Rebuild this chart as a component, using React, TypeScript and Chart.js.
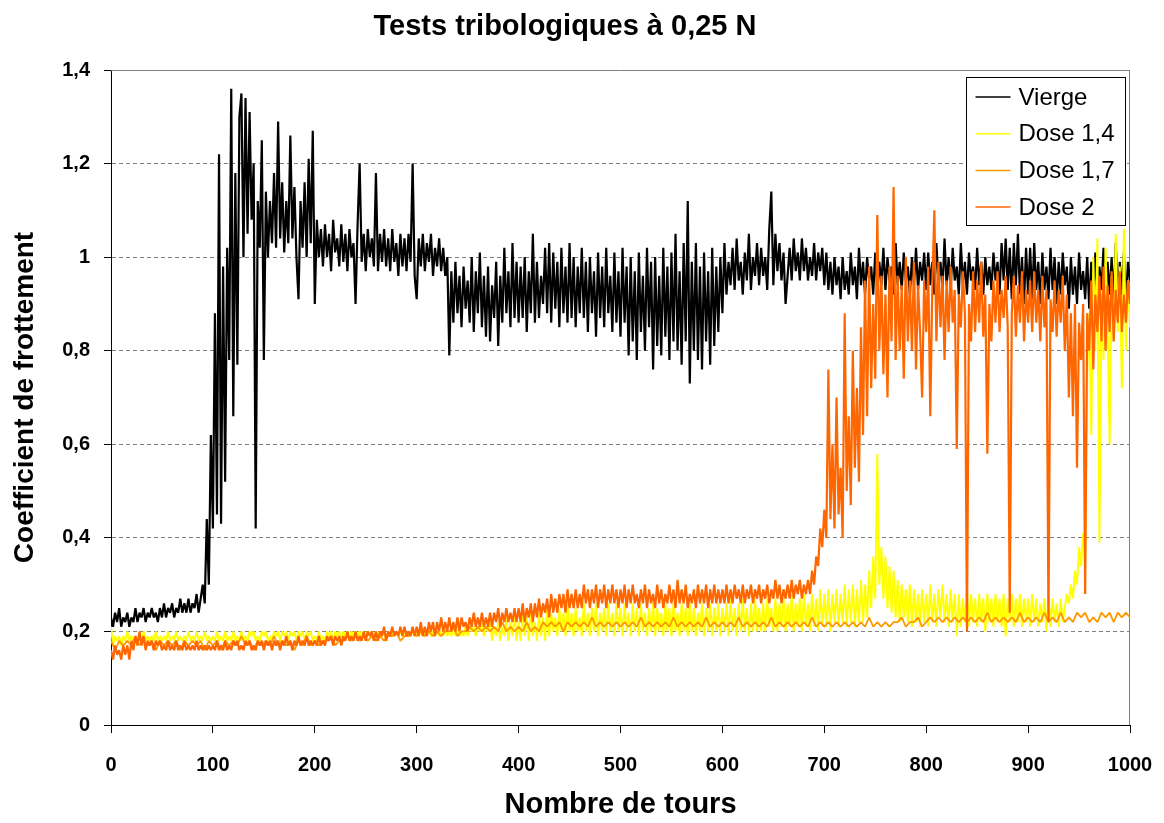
import React, { useEffect, useRef } from "react";
import { Chart, registerables } from "chart.js";

Chart.register(...registerables);

const TITLE = "Tests tribologiques à 0,25 N";
const X_TITLE = "Nombre de tours";
const Y_TITLE = "Coefficient de frottement";
const SERIES_LABELS = ["Vierge", "Dose 1,4", "Dose 1,7", "Dose 2"];
const SERIES_COLORS = ["#000000", "#FFFF00", "#FF9900", "#FF6600"];

// sampling grids (tours): every 2 tours and every 4 tours, 0..1000
const TOURS_2 = Array.from({ length: 501 }, (_, i) => i * 2);
const TOURS_4 = Array.from({ length: 251 }, (_, i) => i * 4);

// every 2 tours
const VIERGE = [
  0.23,0.21,0.24,0.22,0.25,0.21,0.23,0.22,0.24,0.21,
  0.23,0.22,0.25,0.22,0.24,0.23,0.25,0.22,0.24,0.23,
  0.25,0.23,0.24,0.22,0.25,0.23,0.26,0.23,0.25,0.24,
  0.26,0.23,0.25,0.24,0.27,0.24,0.26,0.24,0.27,0.24,
  0.26,0.25,0.28,0.24,0.27,0.30,0.26,0.44,0.30,0.62,
  0.42,0.88,0.45,1.22,0.43,0.98,0.52,1.02,0.78,1.36,
  0.66,1.18,0.77,1.30,1.35,1.00,1.34,1.05,1.31,1.08,
  1.20,0.42,1.12,1.02,1.25,0.78,1.14,1.00,1.12,1.03,
  1.18,1.02,1.29,1.04,1.16,1.01,1.12,1.03,1.26,1.04,
  1.15,1.00,0.91,1.12,1.02,1.16,1.00,1.21,1.03,1.27,
  0.90,1.08,1.00,1.06,0.98,1.07,1.00,1.05,0.97,1.08,
  1.01,1.04,0.98,1.07,0.99,1.05,0.97,1.06,1.00,1.03,
  0.90,1.07,1.20,0.99,1.05,0.97,1.06,1.00,1.04,0.98,
  1.18,0.97,1.05,0.99,1.06,0.98,1.04,0.97,1.06,0.99,
  1.03,0.96,1.05,0.98,1.04,0.97,1.05,0.99,1.20,0.96,
  0.91,1.04,0.98,1.05,0.97,1.03,0.99,1.05,0.96,1.02,
  0.98,1.04,0.97,1.02,0.96,1.00,0.79,0.97,0.86,0.99,
  0.88,0.96,0.85,0.98,0.89,0.95,0.86,1.00,0.84,0.97,
  0.88,1.01,0.85,0.96,0.83,0.98,0.82,0.94,0.87,0.99,
  0.81,0.96,0.86,1.02,0.88,0.97,0.85,1.03,0.87,0.99,
  0.86,0.98,0.87,1.00,0.84,0.97,0.88,1.05,0.86,0.99,
  0.87,0.96,0.90,1.02,0.88,1.03,0.86,1.01,0.89,0.99,
  0.85,1.02,0.88,0.98,0.86,1.03,0.87,1.00,0.85,0.98,
  0.88,1.02,0.87,0.99,0.84,1.00,0.88,0.97,0.83,1.01,
  0.87,0.98,0.85,1.02,0.88,0.96,0.84,1.01,0.86,0.97,
  0.83,1.02,0.86,0.98,0.79,1.00,0.82,0.97,0.78,1.01,
  0.84,0.96,0.80,1.02,0.85,0.99,0.76,1.00,0.81,0.96,
  0.79,1.02,0.83,0.98,0.78,1.01,0.82,1.05,0.80,0.97,
  0.77,1.03,0.82,1.12,0.73,0.99,0.80,1.03,0.78,0.98,
  0.76,1.01,0.82,0.97,0.77,1.02,0.81,0.98,0.84,1.00,
  0.88,1.03,0.92,0.99,0.94,1.02,0.93,1.04,0.95,0.99,
  0.92,1.01,0.95,1.05,0.93,1.00,0.96,1.03,0.94,1.02,
  0.96,1.00,0.93,1.06,1.14,0.94,1.05,0.97,1.03,0.95,
  1.01,0.90,0.96,1.02,0.95,1.04,0.97,1.01,0.95,1.04,
  0.97,1.02,0.95,1.00,0.96,1.03,0.95,1.01,0.97,1.02,
  0.94,1.01,0.93,0.99,0.92,1.00,0.94,0.98,0.91,1.00,
  0.93,0.97,0.92,1.01,0.94,0.98,0.91,1.02,0.94,0.99,
  0.92,1.00,0.95,0.98,0.92,1.01,0.93,0.99,0.94,1.02,
  0.93,1.00,0.95,0.98,0.92,1.03,0.94,0.99,0.93,1.01,
  0.95,0.98,0.92,1.00,0.94,1.02,0.93,0.99,0.95,1.01,
  0.93,1.01,0.94,0.99,0.92,1.03,0.95,0.99,0.93,1.04,
  0.94,1.00,0.93,1.02,0.95,0.98,0.92,1.03,0.94,0.99,
  0.92,1.01,0.95,0.98,0.93,1.02,0.94,0.99,0.92,1.00,
  0.94,0.98,0.93,1.01,0.95,0.99,0.92,1.03,0.95,1.04,
  0.93,1.02,0.91,1.03,0.94,1.05,0.92,1.00,0.90,1.02,
  0.92,1.02,0.91,1.03,0.93,0.99,0.90,1.01,0.93,0.98,
  0.91,1.02,0.93,1.00,0.90,0.99,0.92,1.01,0.94,0.98,
  0.89,1.00,0.92,0.98,0.90,1.01,0.93,0.97,0.91,1.00,
  0.89,0.99,0.92,1.01,0.90,0.98,0.93,1.02,0.89,0.99,
  0.92,1.00,0.90,1.03,0.91,0.99,0.92,1.01,0.90,0.99,
  0.95,
];

// every 2 tours
const DOSE_14 = [
  0.21,0.17,0.19,0.18,0.19,0.17,0.19,0.18,0.20,0.18,
  0.19,0.18,0.19,0.17,0.19,0.18,0.20,0.18,0.19,0.18,
  0.19,0.18,0.20,0.18,0.19,0.18,0.19,0.18,0.20,0.18,
  0.19,0.18,0.20,0.18,0.19,0.18,0.19,0.18,0.20,0.18,
  0.19,0.18,0.20,0.18,0.19,0.18,0.20,0.18,0.19,0.18,
  0.19,0.18,0.20,0.18,0.19,0.18,0.20,0.18,0.19,0.18,
  0.20,0.18,0.19,0.18,0.20,0.18,0.19,0.18,0.20,0.19,
  0.20,0.18,0.19,0.18,0.20,0.19,0.20,0.18,0.19,0.18,
  0.20,0.19,0.20,0.18,0.20,0.19,0.20,0.18,0.20,0.19,
  0.20,0.18,0.20,0.19,0.20,0.18,0.20,0.19,0.20,0.18,
  0.19,0.18,0.20,0.18,0.19,0.18,0.20,0.19,0.20,0.18,
  0.20,0.19,0.20,0.18,0.20,0.19,0.20,0.18,0.20,0.19,
  0.20,0.19,0.20,0.18,0.20,0.19,0.20,0.19,0.20,0.18,
  0.20,0.19,0.20,0.19,0.20,0.18,0.20,0.19,0.20,0.19,
  0.20,0.19,0.20,0.19,0.20,0.19,0.20,0.19,0.20,0.19,
  0.20,0.19,0.20,0.19,0.20,0.19,0.21,0.19,0.20,0.19,
  0.21,0.19,0.20,0.19,0.21,0.19,0.20,0.19,0.21,0.19,
  0.21,0.19,0.20,0.19,0.21,0.19,0.21,0.20,0.21,0.19,
  0.21,0.20,0.22,0.19,0.21,0.20,0.22,0.18,0.21,0.19,
  0.22,0.18,0.21,0.19,0.23,0.18,0.22,0.19,0.24,0.18,
  0.22,0.18,0.24,0.19,0.23,0.18,0.25,0.19,0.22,0.18,
  0.24,0.19,0.23,0.18,0.25,0.19,0.24,0.20,0.23,0.19,
  0.25,0.20,0.24,0.19,0.26,0.20,0.24,0.19,0.25,0.20,
  0.23,0.19,0.26,0.20,0.24,0.19,0.25,0.20,0.26,0.19,
  0.24,0.20,0.25,0.19,0.26,0.20,0.24,0.19,0.26,0.20,
  0.25,0.19,0.26,0.20,0.24,0.19,0.26,0.20,0.25,0.19,
  0.26,0.20,0.24,0.19,0.25,0.20,0.26,0.19,0.25,0.20,
  0.24,0.19,0.26,0.20,0.25,0.19,0.26,0.20,0.24,0.19,
  0.26,0.20,0.25,0.19,0.26,0.20,0.25,0.19,0.24,0.20,
  0.26,0.19,0.25,0.20,0.26,0.19,0.25,0.20,0.26,0.19,
  0.25,0.20,0.26,0.19,0.27,0.20,0.25,0.19,0.26,0.20,
  0.27,0.20,0.25,0.19,0.26,0.20,0.27,0.20,0.25,0.20,
  0.26,0.20,0.27,0.21,0.25,0.20,0.27,0.20,0.26,0.21,
  0.27,0.20,0.26,0.21,0.28,0.20,0.26,0.21,0.27,0.20,
  0.28,0.21,0.26,0.20,0.28,0.21,0.27,0.20,0.29,0.21,
  0.28,0.21,0.29,0.20,0.28,0.22,0.29,0.21,0.28,0.22,
  0.30,0.21,0.29,0.22,0.30,0.21,0.29,0.22,0.31,0.22,
  0.30,0.23,0.33,0.25,0.36,0.27,0.58,0.30,0.38,0.27,
  0.36,0.25,0.34,0.24,0.33,0.23,0.31,0.22,0.30,0.23,
  0.29,0.22,0.30,0.21,0.29,0.22,0.28,0.21,0.29,0.22,
  0.28,0.21,0.30,0.22,0.28,0.21,0.29,0.23,0.30,0.22,
  0.28,0.21,0.29,0.22,0.28,0.19,0.28,0.21,0.27,0.22,
  0.29,0.21,0.28,0.22,0.27,0.21,0.28,0.22,0.27,0.20,
  0.28,0.22,0.27,0.21,0.28,0.22,0.27,0.21,0.28,0.19,
  0.27,0.22,0.28,0.21,0.27,0.22,0.28,0.21,0.27,0.22,
  0.27,0.21,0.28,0.22,0.27,0.21,0.26,0.22,0.27,0.20,
  0.28,0.21,0.27,0.22,0.26,0.21,0.27,0.22,0.25,0.28,
  0.26,0.30,0.27,0.33,0.30,0.38,0.34,0.41,0.36,0.75,
  0.88,0.62,1.00,0.80,1.04,0.39,0.92,0.78,1.02,0.86,
  0.60,0.96,0.82,1.05,0.84,0.98,0.72,1.06,0.80,0.95,
  0.85,
];

// every 4 tours
const DOSE_17 = [
  0.18,0.16,0.18,0.17,0.18,0.17,0.19,0.17,0.18,0.17,0.18,0.16,0.18,0.17,0.18,0.17,0.18,0.16,0.18,0.17,0.18,0.17,0.18,0.16,0.18,
  0.17,0.18,0.16,0.18,0.17,0.18,0.17,0.19,0.17,0.18,0.16,0.18,0.17,0.18,0.17,0.19,0.17,0.18,0.17,0.18,0.16,0.18,0.17,0.19,0.17,
  0.18,0.17,0.18,0.18,0.19,0.17,0.18,0.18,0.19,0.18,0.19,0.18,0.19,0.18,0.19,0.18,0.19,0.18,0.19,0.19,0.20,0.18,0.19,0.19,0.20,
  0.19,0.20,0.19,0.20,0.19,0.20,0.19,0.20,0.20,0.21,0.19,0.20,0.20,0.21,0.20,0.21,0.20,0.21,0.20,0.21,0.20,0.22,0.20,0.21,0.20,
  0.21,0.20,0.22,0.20,0.21,0.20,0.22,0.21,0.22,0.21,0.22,0.20,0.22,0.21,0.22,0.21,0.22,0.21,0.23,0.21,0.22,0.21,0.22,0.21,0.22,
  0.21,0.22,0.21,0.22,0.21,0.23,0.21,0.22,0.21,0.22,0.21,0.22,0.21,0.23,0.21,0.22,0.21,0.22,0.21,0.22,0.21,0.23,0.21,0.22,0.21,
  0.22,0.21,0.22,0.21,0.23,0.21,0.22,0.21,0.22,0.21,0.22,0.21,0.23,0.21,0.22,0.21,0.22,0.21,0.22,0.21,0.22,0.21,0.23,0.21,0.22,
  0.21,0.22,0.21,0.22,0.21,0.22,0.21,0.22,0.21,0.22,0.21,0.23,0.21,0.22,0.21,0.22,0.21,0.22,0.22,0.23,0.21,0.22,0.22,0.23,0.21,
  0.22,0.23,0.22,0.23,0.22,0.23,0.22,0.23,0.22,0.23,0.22,0.23,0.22,0.23,0.22,0.24,0.22,0.23,0.22,0.23,0.22,0.23,0.22,0.24,0.22,
  0.23,0.22,0.23,0.22,0.24,0.22,0.23,0.22,0.24,0.22,0.23,0.22,0.24,0.23,0.24,0.22,0.23,0.22,0.24,0.23,0.24,0.22,0.24,0.23,0.24,
  0.23,
];

// every 2 tours
const DOSE_2 = [
  0.16,0.14,0.17,0.15,0.16,0.14,0.17,0.15,0.17,0.14,
  0.18,0.16,0.19,0.17,0.20,0.17,0.19,0.16,0.18,0.17,
  0.18,0.16,0.18,0.17,0.18,0.16,0.17,0.16,0.18,0.16,
  0.17,0.16,0.18,0.16,0.17,0.16,0.18,0.16,0.17,0.16,
  0.17,0.16,0.18,0.16,0.17,0.16,0.17,0.16,0.17,0.16,
  0.17,0.16,0.18,0.16,0.17,0.16,0.18,0.16,0.17,0.16,
  0.18,0.17,0.18,0.16,0.17,0.16,0.18,0.17,0.18,0.16,
  0.17,0.16,0.18,0.17,0.18,0.16,0.18,0.17,0.18,0.16,
  0.18,0.17,0.18,0.16,0.18,0.17,0.19,0.17,0.18,0.16,
  0.18,0.17,0.19,0.17,0.18,0.17,0.19,0.17,0.18,0.17,
  0.18,0.17,0.19,0.17,0.18,0.17,0.19,0.18,0.19,0.17,
  0.19,0.18,0.19,0.17,0.19,0.18,0.20,0.18,0.19,0.18,
  0.20,0.18,0.19,0.18,0.20,0.18,0.20,0.19,0.20,0.18,
  0.20,0.18,0.20,0.19,0.21,0.18,0.20,0.19,0.21,0.19,
  0.20,0.19,0.21,0.19,0.21,0.19,0.20,0.19,0.21,0.19,
  0.21,0.19,0.22,0.19,0.21,0.19,0.22,0.20,0.22,0.19,
  0.22,0.20,0.23,0.20,0.22,0.20,0.23,0.20,0.22,0.20,
  0.23,0.20,0.23,0.21,0.22,0.20,0.23,0.21,0.24,0.21,
  0.23,0.21,0.24,0.21,0.23,0.21,0.24,0.21,0.24,0.22,
  0.25,0.21,0.24,0.22,0.25,0.22,0.24,0.22,0.25,0.22,
  0.25,0.22,0.26,0.22,0.25,0.23,0.26,0.22,0.26,0.23,
  0.27,0.23,0.26,0.24,0.27,0.23,0.28,0.24,0.27,0.24,
  0.28,0.25,0.28,0.24,0.29,0.25,0.28,0.25,0.29,0.25,
  0.28,0.25,0.30,0.26,0.29,0.25,0.29,0.26,0.30,0.25,
  0.29,0.26,0.30,0.25,0.29,0.26,0.30,0.26,0.29,0.25,
  0.29,0.26,0.30,0.25,0.29,0.26,0.30,0.26,0.28,0.25,
  0.29,0.26,0.30,0.25,0.29,0.26,0.28,0.25,0.30,0.26,
  0.29,0.25,0.28,0.26,0.30,0.26,0.29,0.25,0.31,0.26,
  0.29,0.26,0.30,0.25,0.28,0.26,0.29,0.25,0.30,0.26,
  0.29,0.26,0.30,0.25,0.29,0.26,0.30,0.26,0.29,0.26,
  0.29,0.26,0.30,0.26,0.29,0.26,0.30,0.27,0.29,0.26,
  0.30,0.26,0.29,0.27,0.30,0.26,0.29,0.27,0.30,0.26,
  0.29,0.27,0.30,0.26,0.29,0.27,0.31,0.27,0.30,0.26,
  0.29,0.27,0.30,0.27,0.31,0.27,0.30,0.28,0.31,0.27,
  0.30,0.28,0.31,0.28,0.33,0.30,0.36,0.34,0.42,0.38,
  0.46,0.40,0.76,0.44,0.60,0.42,0.70,0.45,0.55,0.40,
  0.88,0.50,0.66,0.47,0.80,0.55,0.72,0.52,0.85,0.62,
  0.95,0.66,0.98,0.72,0.90,0.74,1.09,0.80,0.96,0.75,
  0.92,0.70,0.98,0.82,1.15,0.78,0.96,0.80,0.94,0.74,
  1.00,0.82,0.95,0.80,0.99,0.76,0.94,0.84,0.70,0.95,
  0.84,0.98,0.66,0.94,1.10,0.82,0.99,0.85,0.96,0.78,
  0.95,0.84,0.98,0.86,0.93,0.59,0.92,0.85,0.97,0.88,
  0.20,0.90,0.82,0.97,0.84,0.95,0.86,0.99,0.83,0.92,
  0.58,0.90,0.82,0.95,0.86,0.97,0.84,0.93,0.87,0.96,
  0.85,0.24,0.88,0.96,0.83,0.94,0.86,0.97,0.82,0.93,
  0.86,0.95,0.84,0.97,0.86,0.93,0.82,0.96,0.85,0.93,
  0.22,0.91,0.84,0.95,0.83,0.93,0.86,0.96,0.80,0.92,
  0.70,0.88,0.66,0.90,0.55,0.86,0.78,0.90,0.28,0.88,
  0.80,0.95,0.76,0.92,0.84,0.96,0.82,0.98,0.80,0.94,
  0.84,0.97,0.82,0.93,0.86,0.97,0.84,0.92,0.86,0.95,
  0.90,
];

const SERIES_VALUES = [VIERGE, DOSE_14, DOSE_17, DOSE_2];
const SERIES_TOURS = [TOURS_2, TOURS_2, TOURS_4, TOURS_2];
const SERIES_WIDTHS = [2.2, 2.0, 1.8, 2.2];
const Y_MIN = 0;
const Y_MAX = 1.4;
const Y_STEP = 0.2;
const X_MIN = 0;
const X_MAX = 1000;
const X_STEP = 100;

const FONT = "'Liberation Sans', Arial, sans-serif";

const framePlugin = {
  id: "frame",
  beforeDatasetsDraw(chart: any) {
    const { ctx, chartArea } = chart;
    ctx.save();
    ctx.strokeStyle = "#808080";
    ctx.lineWidth = 1;
    ctx.setLineDash([]);
    ctx.beginPath();
    ctx.moveTo(chartArea.left, chartArea.top + 0.5);
    ctx.lineTo(chartArea.right - 0.5, chartArea.top + 0.5);
    ctx.lineTo(chartArea.right - 0.5, chartArea.bottom);
    ctx.stroke();
    ctx.restore();
  },
};

const boxLegendPlugin = {
  id: "boxLegend",
  afterDraw(chart: any) {
    const { ctx, chartArea } = chart;
    const w = 159;
    const h = 148;
    const x = Math.round(chartArea.right - 164) + 0.5;
    const y = Math.round(chartArea.top + 7) + 0.5;
    ctx.save();
    ctx.fillStyle = "#ffffff";
    ctx.fillRect(x, y, w, h);
    ctx.strokeStyle = "#000000";
    ctx.lineWidth = 1;
    ctx.strokeRect(x, y, w, h);
    ctx.font = `24px ${FONT}`;
    ctx.textBaseline = "middle";
    ctx.textAlign = "left";
    chart.data.datasets.forEach((ds: any, i: number) => {
      const cy = y + 19.5 + i * 36.7;
      ctx.strokeStyle = ds.borderColor;
      ctx.lineWidth = 1.5;
      ctx.beginPath();
      ctx.moveTo(x + 9, cy);
      ctx.lineTo(x + 44, cy);
      ctx.stroke();
      ctx.fillStyle = "#000000";
      ctx.fillText(ds.label, x + 52, cy + 1);
    });
    ctx.restore();
  },
};

export default function App() {
  const canvasRef = useRef<HTMLCanvasElement | null>(null);

  useEffect(() => {
    document.body.style.margin = "0";
    const canvas = canvasRef.current;
    if (!canvas) return;
    Chart.defaults.color = "#000000";

    const datasets = SERIES_LABELS.map((label, s) => ({
      label,
      data: SERIES_TOURS[s].map((t, i) => ({ x: t, y: SERIES_VALUES[s][i] })),
      borderColor: SERIES_COLORS[s],
      backgroundColor: SERIES_COLORS[s],
      borderWidth: SERIES_WIDTHS[s],
      borderJoinStyle: "bevel",
      pointRadius: 0,
      tension: 0,
      fill: false,
      order: SERIES_LABELS.length - s,
    }));

    const chart = new Chart(canvas, {
      type: "line",
      data: { datasets },
      options: {
        animation: false,
        responsive: false,
        maintainAspectRatio: false,
        layout: { padding: { left: 0, right: 34, top: 0, bottom: 0 } },
        plugins: {
          legend: { display: false },
          tooltip: { enabled: false },
          title: {
            display: true,
            text: TITLE,
            color: "#000000",
            font: { family: FONT, size: 29, weight: "bold" },
            padding: { top: 10, bottom: 25.2 },
          },
        },
        scales: {
          x: {
            type: "linear",
            min: X_MIN,
            max: X_MAX,
            afterFit: (scale: any) => {
              scale.height = 98;
              scale.paddingLeft = 0;
              scale.paddingRight = 0;
            },
            ticks: {
              stepSize: X_STEP,
              color: "#000000",
              padding: 20,
              maxRotation: 0,
              font: { family: FONT, size: 20, weight: "bold" },
              callback: (v: any) => String(v),
            },
            grid: {
              display: true,
              drawOnChartArea: false,
              drawTicks: true,
              tickLength: 8,
              color: "#000000",
              tickColor: "#000000",
            },
            border: { display: true, color: "#000000", width: 1 },
            title: {
              display: true,
              text: X_TITLE,
              color: "#000000",
              font: { family: FONT, size: 29, weight: "bold" },
              padding: { top: 0, bottom: 1 },
            },
          },
          y: {
            type: "linear",
            min: Y_MIN,
            max: Y_MAX,
            afterFit: (scale: any) => {
              scale.width = 111;
              scale.paddingTop = 0;
              scale.paddingBottom = 0;
            },
            ticks: {
              stepSize: Y_STEP,
              color: "#000000",
              padding: 14,
              font: { family: FONT, size: 20, weight: "bold" },
              callback: (v: any) => String(Math.round(Number(v) * 10) / 10).replace(".", ","),
            },
            grid: {
              display: true,
              drawOnChartArea: true,
              drawTicks: true,
              tickLength: 7,
              color: "#808080",
              tickColor: "#000000",
              tickBorderDash: [],
            },
            border: { display: true, color: "#000000", width: 1, dash: [4, 3] },
            title: {
              display: true,
              text: Y_TITLE,
              color: "#000000",
              font: { family: FONT, size: 28, weight: "bold" },
              padding: { top: 8, bottom: 0 },
            },
          },
        },
      },
      plugins: [framePlugin, boxLegendPlugin],
    } as any);

    return () => chart.destroy();
  }, []);

  return (
    <div style={{ width: 1164, height: 823 }}>
      <canvas ref={canvasRef} width={1164} height={823} style={{ display: "block" }} />
    </div>
  );
}
